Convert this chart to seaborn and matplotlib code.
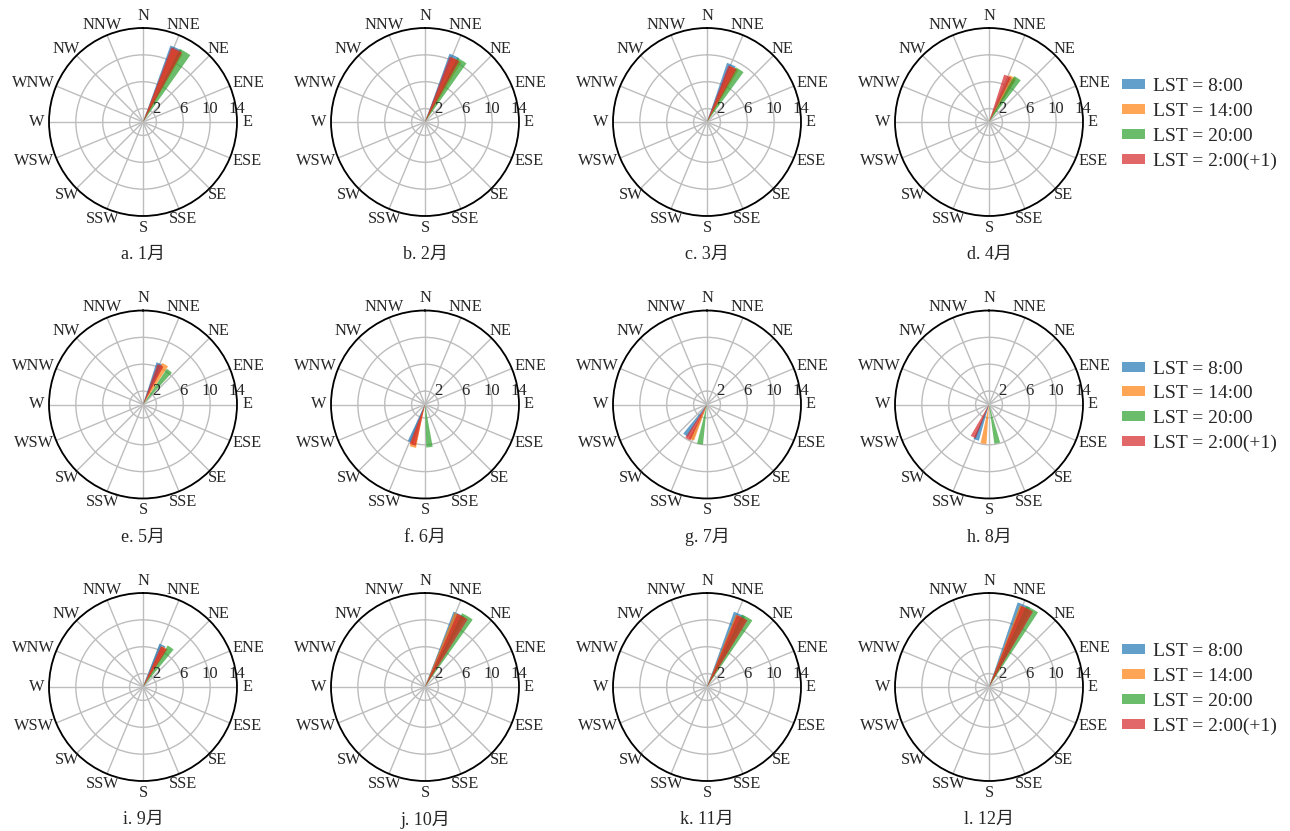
import matplotlib
matplotlib.use('Agg')
import matplotlib.pyplot as plt
import numpy as np
import seaborn as sns

# 各月平均风向(度)与风速
months = ['a. 1月', 'b. 2月', 'c. 3月', 'd. 4月', 'e. 5月', 'f. 6月',
          'g. 7月', 'h. 8月', 'i. 9月', 'j. 10月', 'k. 11月', 'l. 12月']
series = ['LST = 8:00', 'LST = 14:00', 'LST = 20:00', 'LST = 2:00(+1)']
dirs_labels = ['N', 'NNE', 'NE', 'ENE', 'E', 'ESE', 'SE', 'SSE',
               'S', 'SSW', 'SW', 'WSW', 'W', 'WNW', 'NW', 'NNW']
r_ticks = [2, 6, 10, 14]

dir_8 = [24, 24, 23, 28, 22, 201, 215, 200, 25, 25, 24, 23]
spd_8 = [12.1, 10.8, 9.3, 7.3, 6.6, 6.0, 5.6, 5.6, 6.9, 12.0, 11.9, 13.3]
dir_14 = [26, 27, 27, 28, 29, 196, 204, 188, 29, 26, 26, 25]
spd_14 = [11.7, 10.4, 9.0, 7.6, 6.8, 6.6, 5.7, 5.9, 6.7, 11.9, 11.6, 13.0]
dir_20 = [31, 31, 32, 33, 38, 174, 190, 168, 35, 31, 30, 29]
spd_20 = [12.2, 10.7, 9.2, 7.8, 6.4, 6.4, 6.0, 5.9, 7.2, 12.3, 12.0, 13.3]
dir_2 = [25, 25, 25, 22, 24, 197, 209, 206, 28, 28, 27, 26]
spd_2 = [11.9, 10.4, 9.0, 7.4, 6.4, 6.3, 5.9, 5.4, 6.6, 11.9, 11.6, 13.0]

all_dirs = [dir_8, dir_14, dir_20, dir_2]
all_spds = [spd_8, spd_14, spd_20, spd_2]

sns.set_style('white')
plt.rcParams['font.family'] = ['Liberation Serif', 'Noto Sans CJK SC']
colors = sns.color_palette('tab10', 4)

W, H = 1290, 831
fig = plt.figure(figsize=(W / 100, H / 100), dpi=100)

cxs = [143, 425, 707, 989]
cys = [122, 404.5, 687]
R = 94
angles = np.arange(0, 360, 22.5)

compass_texts = []
for i in range(12):
    row, col = i // 4, i % 4
    cx, cy = cxs[col], cys[row]
    ax = fig.add_axes([(cx - R) / W, (H - cy - R) / H, 2 * R / W, 2 * R / H],
                      projection='polar')
    ax.set_theta_zero_location('N')
    ax.set_theta_direction(-1)
    for k in range(4):
        ax.bar(np.deg2rad(all_dirs[k][i]), all_spds[k][i], width=0.15,
               color=colors[k], alpha=0.7, label=series[k], linewidth=0)
    ax.set_ylim(0, 14)
    ax.set_yticks(r_ticks)
    ax.set_yticklabels([])
    for t in r_ticks:
        ax.annotate(str(t), xy=(np.pi / 2, t), xytext=(0, 9.5),
                    textcoords='offset points', ha='center', va='center',
                    fontsize=12)
    ax.set_xticks(np.deg2rad(angles))
    ax.set_xticklabels([])
    for a, lab in zip(angles, dirs_labels):
        txt = ax.text(0.5, 0.5, lab, transform=ax.transAxes, ha='center',
                      va='center', fontsize=11.8)
        compass_texts.append((ax, txt, np.deg2rad(a)))
    ax.grid(color='#bdbdbd', linewidth=1.0)
    ax.spines['polar'].set_color('black')
    ax.spines['polar'].set_linewidth(1.3)
    ax.text(0.5, -0.205, months[i], transform=ax.transAxes, ha='center',
            va='center', fontsize=13)
    if col == 3:
        ax.legend(loc='center left', bbox_to_anchor=(1.207, 0.49), frameon=False,
                  fontsize=14, borderpad=0, borderaxespad=0, handlelength=1.2,
                  handleheight=0.4, handletextpad=0.4, labelspacing=0.4)

# 方位标签: 文字边缘距圆周固定距离
renderer = fig.canvas.get_renderer()
R0 = 99
for ax, txt, th in compass_texts:
    bb = txt.get_window_extent(renderer)
    dx = np.sin(th) * (R0 + bb.width / 2 * abs(np.sin(th)))
    dy = np.cos(th) * (R0 + bb.height / 2 * abs(np.cos(th)) - 1)
    txt.set_position((0.5 + dx / (2 * R), 0.5 + dy / (2 * R)))

plt.savefig('out.png', dpi=100)
